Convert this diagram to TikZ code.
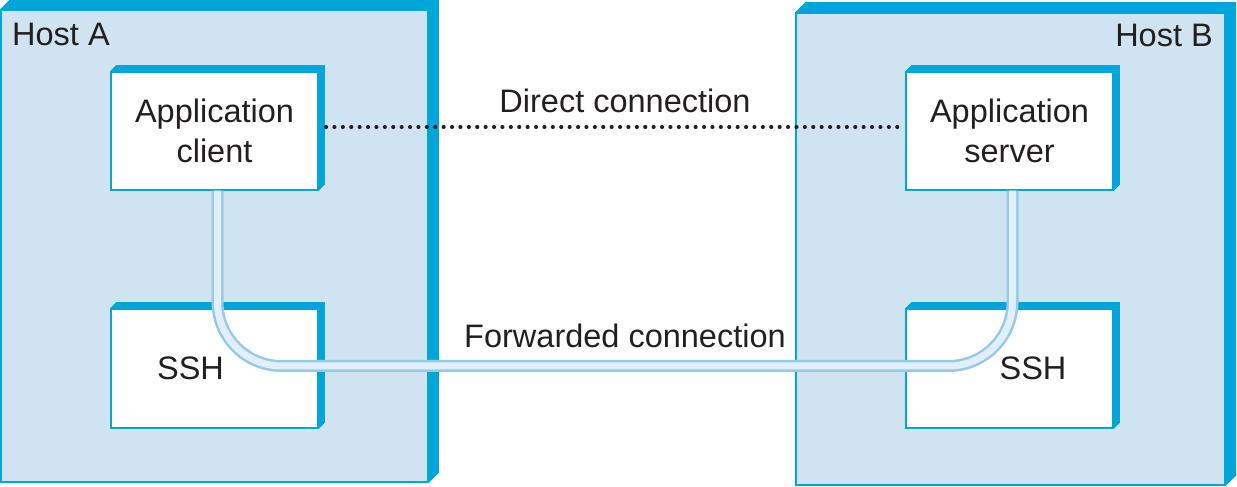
\documentclass[tikz,border=0pt]{standalone}
\usepackage{fontspec}
\setmainfont{Liberation Sans}
\definecolor{edgeblue}{RGB}{0,165,218}
\definecolor{hostfill}{RGB}{207,228,240}
\definecolor{tubeedge}{RGB}{152,201,230}
\definecolor{tubecore}{RGB}{224,239,248}
\definecolor{inkgray}{RGB}{35,31,32}
\tikzset{
  host/.style={draw=edgeblue, fill=hostfill, line width=1.5pt, minimum width=427pt, minimum height=472pt, inner sep=0pt},
  app/.style={draw=edgeblue, fill=white, line width=1.5pt, minimum width=207pt, minimum height=118pt, inner sep=0pt, align=center, text=inkgray},
  tube/.style={draw=tubeedge, line width=2.5pt, double=tubecore, double distance=7pt, rounded corners=64pt},
  dotline/.style={draw=inkgray, line width=3.5pt, line cap=round, dash pattern=on 0.6pt off 7.8pt},
  lbl/.style={text=inkgray, inner sep=0pt},
}
\begin{document}
\begin{tikzpicture}[x=1pt, y=1pt, font=\fontsize{32.5}{40}\selectfont]
\useasboundingbox (0,0) rectangle (1237,487);

\node[host] (hostA) at (214.5, 241) {};
\node[host, minimum width=429pt] (hostB) at (1010.5, 238) {};

\node[app] (client) at (214.5, 356) {Application\\client};
\node[app] (server) at (1009.5, 356) {Application\\server};
\node[app, minimum height=119pt] (sshA) at (214.5, 118.5) {};
\node[app, minimum height=119pt] (sshB) at (1009.5, 118.5) {};

% raised top and right edges
\foreach \n/\d in {hostA/10, hostB/10, client/6, server/6, sshA/6, sshB/6}
  \fill[edgeblue] (\n.north west) -- ++(\d,\d) -- ([shift={(\d,\d)}]\n.north east)
    -- ([shift={(\d,\d)}]\n.south east) -- (\n.south east) -- (\n.north east) -- cycle;

\node[lbl, anchor=base west] (labA) at (12, 441) {Host A};
\node[lbl, anchor=base east] (labB) at (1213, 440) {Host B};
\node[lbl] (sshAtext) at ([xshift=-24]sshA.center) {SSH};
\node[lbl] (sshBtext) at ([xshift=23.5]sshB.center) {SSH};

% direct link
\draw[dotline] ([xshift=7, yshift=4]client.east) -- ([xshift=-3, yshift=4]server.west);
\node[lbl, anchor=base] (direct) at (625, 374) {Direct connection};

% tunnel through ssh
\coordinate (tubeA) at ([xshift=3]client.south |- 0,121);
\coordinate (tubeB) at ([xshift=3]server.south |- 0,121);
\draw[tube] ([xshift=3]client.south) -- (tubeA) -- (tubeB) -- ([xshift=3]server.south);
\node[lbl, anchor=base] (forward) at (625, 139) {Forwarded connection};
\end{tikzpicture}
\end{document}
